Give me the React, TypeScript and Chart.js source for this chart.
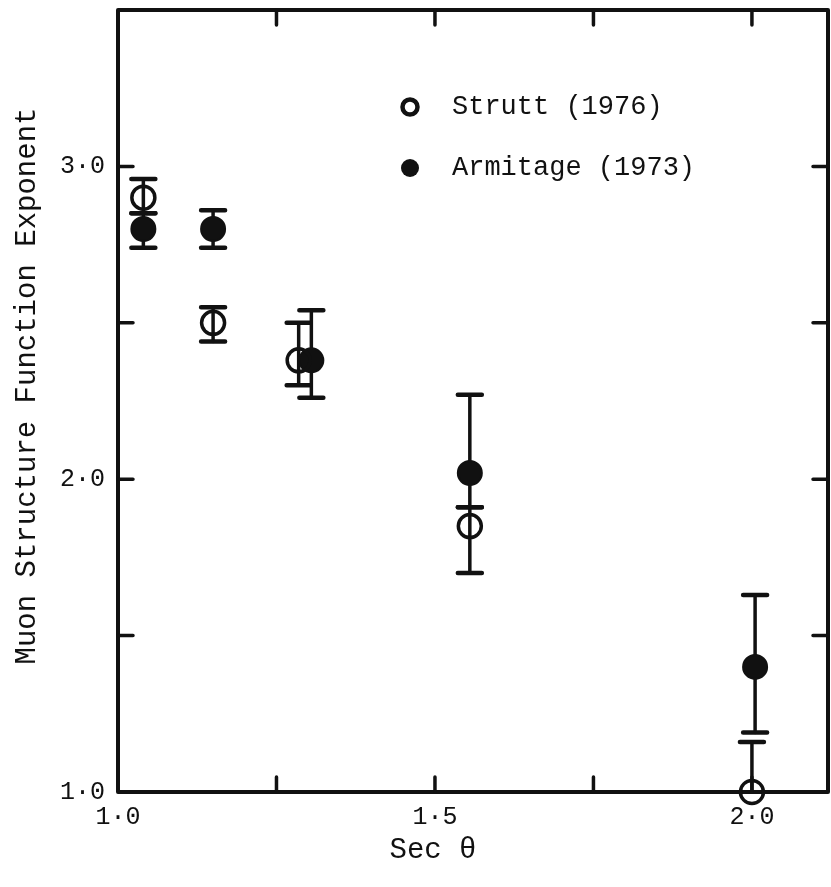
import React, { useEffect, useRef } from "react";
import { Chart, registerables } from "chart.js";

Chart.register(...registerables);

// ---- data ----
const struttX = [1.04, 1.15, 1.285, 1.555, 2.0];
const struttY = [2.9, 2.5, 2.38, 1.85, 1.0];
const struttLo = [2.85, 2.44, 2.3, 1.7, 0.85];
const struttHi = [2.96, 2.55, 2.5, 1.91, 1.16];

const armX = [1.04, 1.15, 1.305, 1.555, 2.005];
const armY = [2.8, 2.8, 2.38, 2.02, 1.4];
const armLo = [2.74, 2.74, 2.26, 1.91, 1.19];
const armHi = [2.85, 2.86, 2.54, 2.27, 1.63];

const xLabelValues = [1.0, 1.5, 2.0];
const xLabelTexts = ["1·0", "1·5", "2·0"];
const yLabelValues = [1.0, 2.0, 3.0];
const yLabelTexts = ["1·0", "2·0", "3·0"];
const xTickMarks = [1.25, 1.5, 1.75, 2.0];
const yTickMarks = [1.5, 2.0, 2.5, 3.0];

const seriesNames = ["Strutt (1976)", "Armitage (1973)"];
const xTitle = "Sec θ";
const yTitle = "Muon Structure Function Exponent";

const FONT = "'Liberation Mono', 'Courier New', monospace";
const INK = "#111";

function lookup(values: number[], texts: string[], v: number) {
  const i = values.findIndex((t) => Math.abs(t - v) < 1e-6);
  return i >= 0 ? texts[i] : "";
}

const errorBars = [
  { x: struttX, lo: struttLo, hi: struttHi },
  { x: armX, lo: armLo, hi: armHi },
];

function zeroPad(s: any) {
  s.paddingTop = 0;
  s.paddingBottom = 0;
  s.paddingLeft = 0;
  s.paddingRight = 0;
}

const framePlugin = {
  id: "frame",
  beforeDatasetsDraw(chart: any) {
    const { ctx, chartArea: a, scales } = chart;
    const xs = scales.x;
    const ys = scales.y;
    ctx.save();
    ctx.strokeStyle = INK;
    ctx.lineWidth = 4;
    ctx.lineJoin = "round";
    ctx.lineCap = "round";
    ctx.strokeRect(a.left, a.top, a.right - a.left, a.bottom - a.top);
    const L = 15;
    ctx.lineWidth = 3.5;
    for (const v of xTickMarks) {
      const px = xs.getPixelForValue(v);
      ctx.beginPath();
      ctx.moveTo(px, a.top);
      ctx.lineTo(px, a.top + L);
      ctx.moveTo(px, a.bottom);
      ctx.lineTo(px, a.bottom - L);
      ctx.stroke();
    }
    for (const v of yTickMarks) {
      const py = ys.getPixelForValue(v);
      ctx.beginPath();
      ctx.moveTo(a.left, py);
      ctx.lineTo(a.left + L, py);
      ctx.moveTo(a.right, py);
      ctx.lineTo(a.right - L, py);
      ctx.stroke();
    }
    // error bars (clipped to plot area)
    ctx.beginPath();
    ctx.rect(a.left, a.top - 2, a.right - a.left, a.bottom - a.top + 2);
    ctx.clip();
    ctx.lineCap = "round";
    for (const s of errorBars) {
      for (let i = 0; i < s.x.length; i++) {
        const px = xs.getPixelForValue(s.x[i]);
        const pLo = ys.getPixelForValue(s.lo[i]);
        const pHi = ys.getPixelForValue(s.hi[i]);
        ctx.lineWidth = 3.5;
        ctx.beginPath();
        ctx.moveTo(px, pLo);
        ctx.lineTo(px, pHi);
        ctx.stroke();
        ctx.lineWidth = 4.5;
        ctx.beginPath();
        ctx.moveTo(px - 12, pLo);
        ctx.lineTo(px + 12, pLo);
        ctx.moveTo(px - 12, pHi);
        ctx.lineTo(px + 12, pHi);
        ctx.stroke();
      }
    }
    ctx.restore();
  },
  afterDraw(chart: any) {
    const { ctx } = chart;
    // axis titles
    ctx.save();
    ctx.font = `29px ${FONT}`;
    ctx.fillStyle = INK;
    ctx.textAlign = "center";
    ctx.textBaseline = "middle";
    ctx.fillText(xTitle, 433, 850);
    ctx.translate(27, 386);
    ctx.rotate(-Math.PI / 2);
    ctx.fillText(yTitle, 0, 0);
    ctx.restore();

    // legend
    ctx.save();
    ctx.font = `27px ${FONT}`;
    ctx.fillStyle = INK;
    ctx.textBaseline = "middle";
    ctx.textAlign = "left";
    const rows = [
      { y: 107, fill: false },
      { y: 168, fill: true },
    ];
    rows.forEach((r, i) => {
      ctx.beginPath();
      ctx.arc(410, r.y, r.fill ? 9 : 7.5, 0, Math.PI * 2);
      if (r.fill) {
        ctx.fillStyle = INK;
        ctx.fill();
      } else {
        ctx.lineWidth = 4.5;
        ctx.strokeStyle = INK;
        ctx.stroke();
      }
      ctx.fillStyle = INK;
      ctx.fillText(seriesNames[i], 452, r.y);
    });
    ctx.restore();
  },
};

export default function App() {
  const ref = useRef<HTMLCanvasElement | null>(null);

  useEffect(() => {
    document.body.style.margin = "0";
    if (!ref.current) return;
    const chart = new Chart(ref.current, {
      type: "scatter",
      data: {
        datasets: [
          {
            label: seriesNames[0],
            data: struttX.map((x, i) => ({ x, y: struttY[i] })),
            pointRadius: 11.5,
            pointBorderWidth: 3.5,
            borderColor: INK,
            backgroundColor: "rgba(0,0,0,0)",
            clip: false,
          },
          {
            label: seriesNames[1],
            data: armX.map((x, i) => ({ x, y: armY[i] })),
            pointRadius: 12,
            pointBorderWidth: 2,
            borderColor: INK,
            backgroundColor: INK,
            clip: false,
          },
        ],
      },
      options: {
        animation: false,
        responsive: true,
        maintainAspectRatio: false,
        layout: { autoPadding: false, padding: { top: 10, right: 3, left: 0, bottom: 0 } },
        plugins: {
          legend: { display: false },
          tooltip: { enabled: false },
        },
        scales: {
          x: {
            type: "linear",
            min: 1.0,
            max: 2.12,
            grid: { display: false, drawTicks: false },
            border: { display: false },
            afterFit: (s: any) => {
              s.height = 95;
              zeroPad(s);
            },
            ticks: {
              stepSize: 0.25,
              includeBounds: false,
              autoSkip: false,
              maxRotation: 0,
              padding: 10,
              color: INK,
              font: { family: FONT, size: 25 },
              callback: (v: any) => lookup(xLabelValues, xLabelTexts, Number(v)),
            },
            title: { display: false },
          },
          y: {
            type: "linear",
            min: 1.0,
            max: 3.5,
            grid: { display: false, drawTicks: false },
            border: { display: false },
            afterFit: (s: any) => {
              s.width = 118;
              zeroPad(s);
            },
            ticks: {
              stepSize: 0.5,
              autoSkip: false,
              padding: 13,
              color: INK,
              font: { family: FONT, size: 25 },
              callback: (v: any) => lookup(yLabelValues, yLabelTexts, Number(v)),
            },
            title: { display: false },
          },
        },
      },
      plugins: [framePlugin],
    });
    return () => chart.destroy();
  }, []);

  return (
    <div style={{ position: "absolute", left: 0, top: 0, width: 831, height: 887, background: "#fff" }}>
      <canvas ref={ref} />
    </div>
  );
}
